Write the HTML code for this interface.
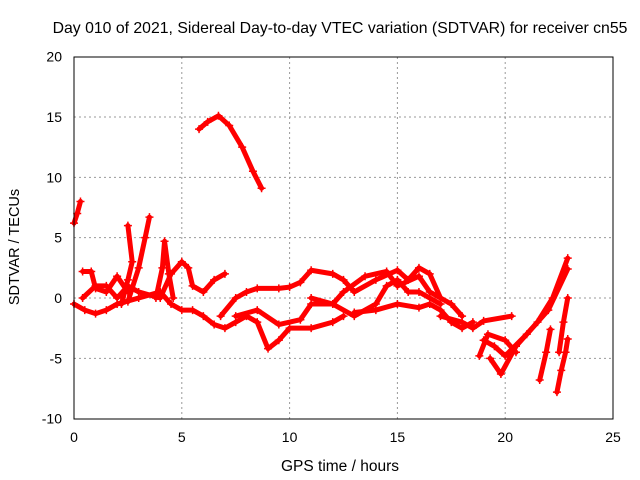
<!DOCTYPE html>
<html><head><meta charset="utf-8"><style>
body{margin:0;background:#fff}
svg{display:block;font-family:"Liberation Sans",sans-serif;font-size:14px}
</style></head><body>
<svg width="640" height="480">
<text x="340" y="33" text-anchor="middle" style="font-size:15.8px">Day 010 of 2021, Sidereal Day-to-day VTEC variation (SDTVAR) for receiver cn55</text>
<g id="grid"></g>
<g id="ticks"></g>
<g id="series"></g>
<rect x="74" y="57" width="539" height="362" fill="none" stroke="#000"/>
<text x="340" y="471" text-anchor="middle" style="font-size:15.5px">GPS time / hours</text>
<text transform="translate(19,247) rotate(-90)" text-anchor="middle" style="font-size:14.5px">SDTVAR / TECUs</text>
</svg>
<script>
const xTicks=[0,5,10,15,20,25];
const yTicks=[-10,-5,0,5,10,15,20];
const tracks=[
[[0,6.2],[0.15,7],[0.3,8]],
[[5.8,14],[6.2,14.6],[6.7,15.1],[7.2,14.3],[7.8,12.5],[8.3,10.5],[8.7,9.1]],
[[2.2,-0.5],[2.5,1.5],[2.7,3],[2.5,6]],
[[2.5,-0.3],[3,2.5],[3.3,5],[3.5,6.7]],
[[3.8,0],[4.1,2.5],[4.2,4.7],[4.4,2],[4.6,0]],
[[0,-0.5],[0.5,-1],[1,-1.3],[1.5,-1],[2,-0.5],[3,0],[4,0.5],[4.5,-0.5],[5,-1],[5.5,-1],[6,-1.5],[6.5,-2.2],[7,-2.5],[7.5,-2],[8,-1.5],[8.5,-2],[9,-4.2],[9.5,-3.5],[10,-2.5],[11,-2.5],[12,-2],[12.5,-1.5]],
[[0.4,0],[1,1],[1.5,1],[2,0],[2.5,1],[3,0.5],[4,0],[4.5,2],[5,3],[5.3,2.5],[5.5,1],[6,0.5],[6.5,1.5],[7,2]],
[[0.4,2.2],[0.8,2.2],[1,0.8],[1.5,0.5],[2,1.8],[2.5,0.5]],
[[6.8,-1.5],[7.5,0],[8,0.5],[8.5,0.8],[9.5,0.8],[10,0.9],[10.5,1.3],[11,2.3],[12,2],[12.5,1.5],[13,0.5],[14,1.5],[15,2.3],[15.5,1.5],[16,2.5],[16.5,2],[17,0]],
[[7.5,-1.5],[8.5,-1],[9.5,-2.2],[10.5,-1.8],[11,-0.5],[12,-0.5],[13,-1.5],[14,-0.5],[14.5,1],[15,1.5],[15.5,0.5],[16,0.5],[17,-0.5]],
[[11,0],[12,-0.5],[12.5,0.5],[13.5,1.8],[14.5,2.2],[15,1],[16,1.8],[16.5,0.5],[17.5,-0.5],[18,-1.5]],
[[13,-1.2],[14,-1],[15,-0.5],[16,-0.8],[16.5,-0.5],[17,-1],[17.5,-2],[18,-2.5],[18.5,-2]],
[[17,-1.5],[18,-2],[18.5,-2.5],[19,-1.9],[20.3,-1.5]],
[[19,-3.5],[19.5,-4],[20,-4.8],[21,-3],[22,-1],[22.9,2.4]],
[[19.3,-5],[19.8,-6.3],[20.5,-4],[21.5,-2],[22.2,0],[22.9,3.3]],
[[18.8,-4.8],[19.2,-3],[20,-3.5],[20.5,-4.5]],
[[21.6,-6.8],[21.9,-4.5],[22.1,-2.6]],
[[22.4,-7.8],[22.6,-6],[22.8,-4.5],[22.9,-3.4]],
[[22.5,-4.5],[22.7,-2],[22.9,0]]
];
const ns="http://www.w3.org/2000/svg";
const X=v=>74+v*539/25, Y=v=>298-v*362/30;
const grid=document.getElementById('grid'),ticks=document.getElementById('ticks'),ser=document.getElementById('series');
function mk(tag,attrs,parent){const e=document.createElementNS(ns,tag);for(const k in attrs)e.setAttribute(k,attrs[k]);parent.appendChild(e);return e;}
xTicks.forEach(t=>{
 if(t>0&&t<25){const l=mk('line',{x1:X(t),x2:X(t),y1:57,y2:419,stroke:'#999','stroke-dasharray':'2,3'},grid);
 }
 const tx=mk('text',{x:X(t),y:442,'text-anchor':'middle'},ticks);tx.textContent=t;
 
 
});
yTicks.forEach(t=>{
 if(t>-10&&t<20){const l=mk('line',{x1:74,x2:613,y1:Y(t),y2:Y(t),stroke:'#999','stroke-dasharray':'2,3'},grid);
 }
 const tx=mk('text',{x:62,y:Y(t)+5,'text-anchor':'end'},ticks);tx.textContent=t;
 
 
});
tracks.forEach(tr=>{
 const p=mk('polyline',{points:tr.map(d=>X(d[0])+','+Y(d[1])).join(' '),fill:'none',stroke:'#f00','stroke-width':5,'stroke-linejoin':'round','stroke-linecap':'round'},ser);
 
 
 tr.forEach(d=>{
  const m=mk('path',{d:`M${X(d[0])-4},${Y(d[1])}h8M${X(d[0])},${Y(d[1])-4}v8`,stroke:'#f00','stroke-width':1.5},ser);
  
  
 });
});
</script>
</body></html>
